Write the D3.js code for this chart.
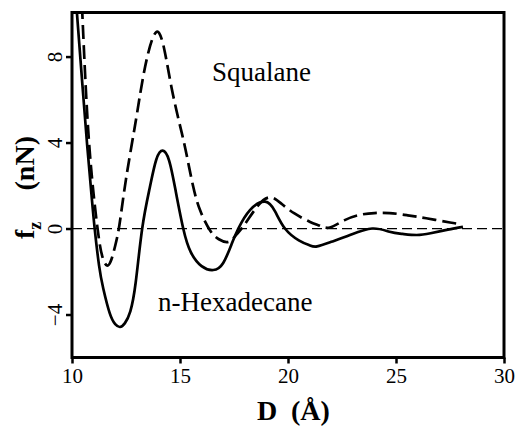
<!DOCTYPE html>
<html>
<head>
<meta charset="utf-8">
<script src="https://cdn.jsdelivr.net/npm/d3@7"></script>
<style>
  html, body { margin: 0; padding: 0; background: #fff; }
  svg { display: block; }
  text { font-family: "Liberation Serif", "DejaVu Serif", serif; fill: #000; }
</style>
</head>
<body>
<svg id="chart" width="516" height="429"></svg>
<script>
// Data: D (Å) vs f_z (nN)
const hexadecaneD = [10.2, 10.45, 10.7, 10.9, 11.05, 11.25, 11.45, 11.75, 12.0, 12.22, 12.45, 12.7, 12.95, 13.25, 13.6, 13.9, 14.2, 14.5, 14.8, 15.15, 15.5, 16.0, 16.54, 17.0, 17.4, 17.7, 18.24, 18.94, 19.4, 19.86, 20.5, 21.0, 21.35, 22.0, 22.87, 23.9, 24.7, 25.3, 25.96, 26.6, 27.4, 28.1];
const hexadecaneF = [10.4, 7.1, 3.9, 1.6, 0.0, -1.7, -2.8, -3.95, -4.45, -4.58, -4.4, -3.85, -2.5, 0.0, 1.9, 3.2, 3.62, 3.15, 1.75, 0.0, -1.1, -1.75, -1.93, -1.6, -0.7, 0.0, 0.86, 1.25, 0.8, 0.0, -0.55, -0.78, -0.83, -0.62, -0.3, 0.0, -0.15, -0.25, -0.3, -0.22, -0.05, 0.08];

const squalaneD = [10.46, 10.72, 11.0, 11.25, 11.42, 11.62, 11.82, 12.0, 12.2, 12.5, 12.96, 13.38, 13.9, 14.3, 14.6, 14.95, 15.25, 15.6, 15.95, 16.4, 16.8, 17.24, 17.6, 18.0, 18.6, 19.17, 19.7, 20.3, 21.0, 21.5, 21.94, 22.6, 23.3, 24.0, 24.7, 25.5, 26.4, 27.5, 28.05];
const squalaneF = [10.4, 5.05, 1.6, -0.5, -1.35, -1.72, -1.45, -0.8, 0.2, 2.3, 5.05, 7.5, 9.14, 8.2, 6.6, 5.0, 3.7, 2.0, 0.8, -0.1, -0.5, -0.62, -0.3, 0.2, 1.05, 1.45, 1.15, 0.7, 0.32, 0.12, 0.05, 0.38, 0.63, 0.72, 0.72, 0.62, 0.48, 0.28, 0.2];

const xTicks = [10, 15, 20, 25, 30];
const yTicks = [-4, 0, 4, 8];
const labelSqualane = "Squalane";
const labelHexadecane = "n-Hexadecane";

const svg = d3.select("#chart");
const pLeft = 72, pRight = 504, pTop = 12.5, pBottom = 357.5;

const x = d3.scaleLinear().domain([10, 30]).range([pLeft, pRight]);
const y = d3.scaleLinear().domain([-6, 10.05]).range([pBottom, pTop]);

svg.append("defs").append("clipPath").attr("id", "plotclip")
  .append("rect").attr("x", pLeft).attr("y", pTop).attr("width", pRight - pLeft).attr("height", pBottom - pTop);

// zero line
svg.append("line")
  .attr("x1", x(10)).attr("x2", x(30)).attr("y1", y(0)).attr("y2", y(0))
  .attr("stroke", "#000").attr("stroke-width", 1.3).attr("stroke-dasharray", "10,5");

const line = d3.line().x(d => x(d[0])).y(d => y(d[1])).curve(d3.curveNatural);

const hexData = hexadecaneD.map((d, i) => [d, hexadecaneF[i]]);
const sqData = squalaneD.map((d, i) => [d, squalaneF[i]]);

const g = svg.append("g").attr("clip-path", "url(#plotclip)");
g.append("path").datum(sqData).attr("d", line)
  .attr("fill", "none").attr("stroke", "#000").attr("stroke-width", 2.7)
  .attr("stroke-dasharray", "14,6");
g.append("path").datum(hexData).attr("d", line)
  .attr("fill", "none").attr("stroke", "#000").attr("stroke-width", 2.7);

// axes
const xAxis = d3.axisBottom(x).tickValues(xTicks).tickSize(6).tickPadding(6).tickFormat(d3.format("d"));
const gx = svg.append("g").attr("transform", `translate(0,${pBottom})`).call(xAxis);
gx.select(".domain").remove();
gx.selectAll(".tick line").attr("stroke", "#000").attr("stroke-width", 2.5);
gx.selectAll(".tick text").attr("font-size", 21).attr("font-family", "Liberation Serif").attr("fill", "#000")
  .attr("dy", null).attr("y", 25);

const yAxis = d3.axisLeft(y).tickValues(yTicks).tickSize(6).tickFormat(d3.format("d"));
const gy = svg.append("g").attr("transform", `translate(${pLeft},0)`).call(yAxis);
gy.select(".domain").remove();
gy.selectAll(".tick line").attr("stroke", "#000").attr("stroke-width", 2.5);
gy.selectAll(".tick text")
  .attr("font-size", 21).attr("font-family", "Liberation Serif").attr("fill", "#000")
  .attr("x", null).attr("dy", null)
  .attr("text-anchor", "middle")
  .attr("transform", "translate(-10,0) rotate(-90)");

// frame
svg.append("rect").attr("x", pLeft).attr("y", pTop).attr("width", pRight - pLeft).attr("height", pBottom - pTop)
  .attr("fill", "none").attr("stroke", "#000").attr("stroke-width", 3);

// annotations
svg.append("text").attr("x", 212).attr("y", 81).attr("font-size", 27).text(labelSqualane);
svg.append("text").attr("x", 158).attr("y", 311).attr("font-size", 27).text(labelHexadecane);

// axis titles
svg.append("text").attr("x", 257).attr("y", 420).attr("font-size", 28).attr("font-weight", "bold").text("D");
svg.append("text").attr("x", 291).attr("y", 420).attr("font-size", 28).attr("font-weight", "bold").text("(Å)");

const yl = svg.append("text").attr("transform", "translate(34,239) rotate(-90)").attr("font-size", 28).attr("font-weight", "bold");
yl.append("tspan").text("f");
yl.append("tspan").attr("font-size", 18).attr("dy", 7).text("z");
svg.append("text").attr("transform", "translate(34,136) rotate(-90)").attr("font-size", 28).attr("font-weight", "bold")
  .attr("text-anchor", "end").text("(nN)");
</script>
</body>
</html>
